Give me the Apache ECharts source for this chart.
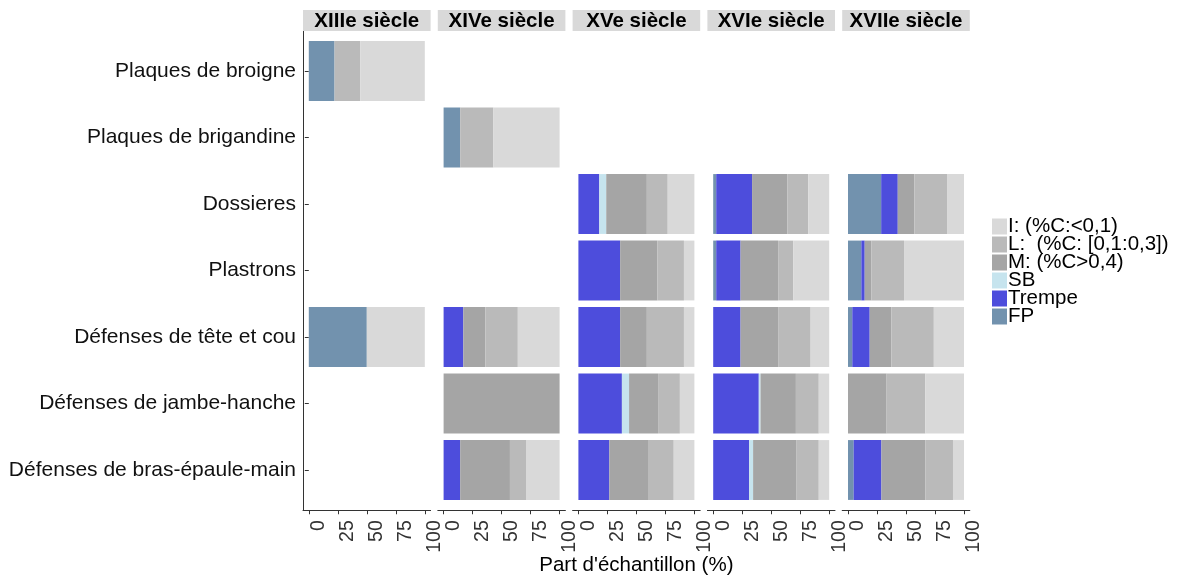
<!DOCTYPE html>
<html lang="fr">
<head>
  <meta charset="UTF-8">
  <title>chart</title>
</head>
<body style="margin:0">
<div id="main" style="width: 1179px;height:579px;"></div>
<script src="https://cdn.jsdelivr.net/npm/echarts@6/dist/echarts.min.js"></script>
<script>
// categories (top to bottom) and facets
var categories = ['Plaques de broigne', 'Plaques de brigandine', 'Dossieres', 'Plastrons',
  'Défenses de tête et cou', 'Défenses de jambe-hanche', 'Défenses de bras-épaule-main'];
var centuries = ['XIIIe siècle', 'XIVe siècle', 'XVe siècle', 'XVIe siècle', 'XVIIe siècle'];
var xTicks = [0, 25, 50, 75, 100];

// one row per century, one value per category (null = no sample)
var fp = [
  [22.2, null, null, null, 50, null, null],
  [null, 14.3, null, null, null, null, null],
  [null, null, null, null, null, null, null],
  [null, null, 2.6, 2.6, null, null, null],
  [null, null, 28.6, 11.5, 3.7, null, 4.9]
];
var trempe = [
  [null, null, null, null, null, null, null],
  [null, null, null, null, 17, null, 14.3],
  [null, null, 18, 36, 36, 37.5, 26.7],
  [null, null, 30.9, 21, 23.6, 39.3, 31],
  [null, null, 14.3, 2.9, 15, null, 23.9]
];
var sb = [
  [null, null, null, null, null, null, null],
  [null, null, null, null, null, null, null],
  [null, null, 6, null, null, 6.2, null],
  [null, null, null, null, null, 1.5, 3.4],
  [null, null, null, null, null, null, null]
];
var m = [
  [null, null, null, null, null, null, null],
  [null, null, null, null, 19, 100, 42.9],
  [null, null, 35, 32, 23, 25, 33.3],
  [null, null, 30.5, 32.4, 32.4, 30.5, 37.1],
  [null, null, 14.3, 5.7, 18.7, 33.3, 37.9]
];
var l = [
  [22.2, null, null, null, null, null, null],
  [null, 28.6, null, null, 28, null, 14.3],
  [null, null, 18, 23, 32, 18.8, 22.2],
  [null, null, 18, 13, 28, 19.7, 19.5],
  [null, null, 28.6, 28.2, 36.6, 33.3, 23.8]
];
var iv = [
  [55.6, null, null, null, 50, null, null],
  [null, 57.1, null, null, 36, null, 28.5],
  [null, null, 23, 9, 9, 12.5, 17.8],
  [null, null, 18, 31, 16, 9, 9],
  [null, null, 14.2, 51.7, 26, 33.4, 9.5]
];

var types = [
  { name: 'FP', data: fp, color: '#7292ae' },
  { name: 'Trempe', data: trempe, color: '#4d4ddc' },
  { name: 'SB', data: sb, color: '#c6e4ee' },
  { name: 'M: (%C>0,4)', data: m, color: '#a5a5a5' },
  { name: 'L:  (%C: [0,1:0,3])', data: l, color: '#bababa' },
  { name: 'I: (%C:<0,1)', data: iv, color: '#d9d9d9' }
];

var font = 'Liberation Sans';
var panelLeft = 303, panelStep = 134.8, panelWidth = 127.6;
var gridTop = 37.75, gridHeight = 465.5;

var myChart = echarts.init(document.getElementById('main'));

var grids = [], xAxes = [], yAxes = [], series = [], graphics = [];
centuries.forEach(function (c, k) {
  var left = panelLeft + panelStep * k;
  grids.push({
    left: left, top: gridTop, width: panelWidth, height: gridHeight,
    containLabel: false, outerBoundsMode: 'none'
  });
  xAxes.push({
    type: 'value', gridIndex: k, min: -5, max: 105, offset: 7,
    splitLine: { show: false },
    axisLine: { show: true, lineStyle: { color: '#333', width: 1 } },
    axisTick: { show: true, length: 4, customValues: xTicks, lineStyle: { color: '#333' } },
    axisLabel: {
      customValues: xTicks, rotate: 90, margin: 10, verticalAlign: 'top',
      fontSize: 19.5, color: '#333', fontFamily: font
    },
    name: k === 2 ? "Part d'échantillon (%)" : '',
    nameLocation: 'middle', nameGap: 45, nameMoveOverlap: false,
    nameTextStyle: { fontSize: 20.5, color: '#000', fontFamily: font }
  });
  yAxes.push({
    type: 'category', gridIndex: k, data: categories, inverse: true,
    axisLine: { show: false },
    axisTick: { show: k === 0, alignWithLabel: true, length: 4, lineStyle: { color: '#333' } },
    axisLabel: { show: k === 0, margin: 7, fontSize: 21, color: '#111', fontFamily: font }
  });
  types.forEach(function (t) {
    series.push({
      name: t.name, type: 'bar', stack: 'p' + k,
      xAxisIndex: k, yAxisIndex: k,
      barWidth: '90%',
      itemStyle: { color: t.color },
      emphasis: { disabled: true },
      data: t.data[k]
    });
  });
  // facet strip
  graphics.push({
    type: 'rect', shape: { x: left, y: 10, width: panelWidth, height: 21 },
    style: { fill: '#d9d9d9' }
  });
  graphics.push({
    type: 'text', x: left + panelWidth / 2, y: 21,
    style: { text: c, fill: '#000', font: 'bold 20.5px ' + font, align: 'center', verticalAlign: 'middle' }
  });
});
// y axis line of first panel
graphics.push({
  type: 'line', shape: { x1: panelLeft + 0.5, y1: 31, x2: panelLeft + 0.5, y2: 510.5 },
  style: { stroke: '#333', lineWidth: 1 }
});

myChart.setOption({
  animation: false,
  textStyle: { fontFamily: font },
  legend: {
    orient: 'vertical', left: 992, top: 216, padding: 0,
    itemWidth: 15, itemHeight: 16, itemGap: -3,
    icon: 'rect', selectedMode: false,
    data: ['I: (%C:<0,1)', 'L:  (%C: [0,1:0,3])', 'M: (%C>0,4)', 'SB', 'Trempe', 'FP'],
    textStyle: { fontSize: 20.5, color: '#000', padding: [0, 0, 0, -4], fontFamily: font }
  },
  grid: grids,
  xAxis: xAxes,
  yAxis: yAxes,
  graphic: graphics,
  series: series
});
</script>
</body>
</html>
